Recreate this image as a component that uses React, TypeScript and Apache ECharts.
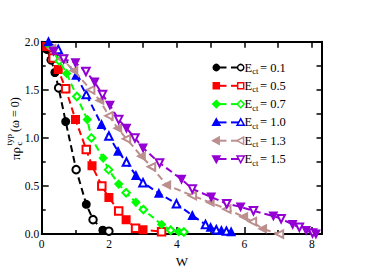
import React, { useEffect, useRef } from 'react';
import * as echarts from 'echarts';

// ---- data ----
const ectLabels = ['0.1', '0.5', '0.7', '1.0', '1.3', '1.5'];

const w01 = [0.15, 0.28, 0.39, 0.5, 0.71, 1.02, 1.32, 1.52, 1.81, 1.99];
const r01 = [1.92, 1.81, 1.68, 1.52, 1.17, 0.67, 0.31, 0.15, 0.04, 0.03];

const w05 = [0.15, 0.34, 0.49, 0.71, 1.0, 1.32, 1.49, 1.78, 1.99, 2.28, 2.5, 2.78, 3.0, 3.55];
const r05 = [1.95, 1.83, 1.71, 1.51, 1.19, 0.88, 0.71, 0.5, 0.38, 0.24, 0.15, 0.06, 0.045, 0.024];

const w07 = [0.22, 0.52, 0.74, 1.04, 1.35, 1.47, 1.82, 1.98, 2.28, 2.5, 2.79, 3.01, 3.55, 3.82, 4.06, 4.21];
const r07 = [1.96, 1.8, 1.67, 1.43, 1.19, 1.0, 0.79, 0.67, 0.52, 0.43, 0.33, 0.255, 0.1, 0.04, 0.025, 0.022];

const w10 = [0.2, 0.49, 1.02, 1.32, 1.77, 1.99, 2.26, 2.51, 2.79, 3.0, 3.47, 3.99, 4.46, 4.85, 5.0, 5.17, 5.32, 5.47, 5.61];
const r10 = [2.0, 1.92, 1.65, 1.45, 1.14, 1.02, 0.86, 0.75, 0.61, 0.535, 0.425, 0.316, 0.194, 0.1, 0.07, 0.045, 0.038, 0.031, 0.024];

const w13 = [0.3, 0.6, 0.95, 1.45, 1.72, 1.99, 2.25, 2.51, 2.95, 3.25, 3.7, 4.46, 4.99, 5.48, 5.98, 6.24, 6.54, 7.04];
const r13 = [1.93, 1.82, 1.7, 1.5, 1.39, 1.23, 1.1, 0.99, 0.81, 0.7, 0.51, 0.4, 0.33, 0.26, 0.18, 0.13, 0.055, 0.0];

const w15 = [0.35, 0.65, 1.0, 1.31, 1.57, 1.8, 2.02, 2.28, 2.51, 2.76, 3.0, 3.49, 4.14, 4.46, 5.02, 5.48, 5.89, 6.27, 6.86, 7.09, 7.43, 7.63, 7.83, 8.02, 8.12];
const r15 = [1.9, 1.82, 1.78, 1.69, 1.58, 1.45, 1.34, 1.19, 1.1, 1.0, 0.895, 0.74, 0.57, 0.47, 0.385, 0.316, 0.283, 0.242, 0.188, 0.16, 0.1, 0.071, 0.038, 0.012, 0.0];

const xTicks = [0, 2, 4, 6, 8];
const yTicks = [0, 0.5, 1.0, 1.5, 2.0];

const allW = [w01, w05, w07, w10, w13, w15];
const allR = [r01, r05, r07, r10, r13, r15];

// ---- styles ----
const colors = ['#000000', '#ff0000', '#00ff00', '#0000ff', '#bc8f8f', '#9400d3'];
const shapes = ['circle', 'rect', 'diamond', 'triangle', 'triangleLeft', 'triangleDown'];
const SERIF = '"Liberation Serif", "Times New Roman", serif';

function symbolFor(shape: string, filled: boolean) {
  const base =
    shape === 'circle' ? 'Circle' : shape === 'rect' ? 'Rect' : shape === 'diamond' ? 'Diamond' : 'Triangle';
  return filled ? base.toLowerCase() : 'empty' + base;
}
function rotFor(shape: string) {
  return shape === 'triangleLeft' ? 90 : shape === 'triangleDown' ? 180 : 0;
}

function marker(shape: string, cx: number, cy: number, color: string, filled: boolean): any {
  const s = 3.6;
  const style = { fill: filled ? color : '#ffffff', stroke: color, lineWidth: 1.5 };
  let pts: number[][] = [];
  switch (shape) {
    case 'circle':
      return { type: 'circle', shape: { cx, cy, r: 3.1 }, style };
    case 'rect':
      return { type: 'rect', shape: { x: cx - 3, y: cy - 3, width: 6, height: 6 }, style };
    case 'diamond':
      pts = [[cx, cy - s], [cx + s, cy], [cx, cy + s], [cx - s, cy]];
      break;
    case 'triangle':
      pts = [[cx, cy - s], [cx + s, cy + s * 0.8], [cx - s, cy + s * 0.8]];
      break;
    case 'triangleLeft':
      pts = [[cx - s, cy], [cx + s * 0.8, cy - s], [cx + s * 0.8, cy + s]];
      break;
    default:
      pts = [[cx, cy + s], [cx + s, cy - s * 0.8], [cx - s, cy - s * 0.8]];
  }
  return { type: 'polygon', shape: { points: pts }, style };
}

const mkLine = () => ({ show: true, onZero: false, lineStyle: { color: '#000', width: 2 } });
const tickStyle = () => ({ color: '#000', width: 1.5 });

export default function App() {
  const ref = useRef<HTMLDivElement>(null);

  useEffect(() => {
    if (!ref.current) return;
    const chart = echarts.init(ref.current, undefined, { renderer: 'svg' });

    const series: any[] = allW.map((w, i) => ({
      type: 'line',
      name: 'E_ct = ' + ectLabels[i],
      xAxisIndex: 0,
      yAxisIndex: 0,
      data: w.map((x, j) => ({
        value: [x, allR[i][j]],
        symbol: symbolFor(shapes[i], j % 2 === 0),
        symbolRotate: rotFor(shapes[i]),
      })),
      symbolSize: 7.5,
      showAllSymbol: true,
      lineStyle: { color: colors[i], width: 2, type: [7, 4] },
      itemStyle: { color: colors[i], borderColor: colors[i], borderWidth: 1.5 },
      z: 2 + i,
      silent: true,
    }));

    // legend (drawn as graphic)
    const legendEls: any[] = [];
    ectLabels.forEach((lab, i) => {
      const y = 67.5 + 18.3 * i;
      const c = colors[i];
      legendEls.push({ type: 'line', shape: { x1: 216.3, y1: y, x2: 226.5, y2: y }, style: { stroke: c, lineWidth: 2 } });
      legendEls.push({ type: 'line', shape: { x1: 231, y1: y, x2: 240.7, y2: y }, style: { stroke: c, lineWidth: 2 } });
      legendEls.push(marker(shapes[i], 216.3, y, c, true));
      legendEls.push(marker(shapes[i], 240.7, y, c, false));
      legendEls.push({ type: 'text', style: { text: 'E', x: 244.5, y: y, font: '12.5px ' + SERIF, fill: '#000', verticalAlign: 'middle' } });
      legendEls.push({ type: 'text', style: { text: 'ct', x: 252.3, y: y + 3.5, font: '8.5px ' + SERIF, fill: '#000', verticalAlign: 'middle' } });
      legendEls.push({ type: 'text', style: { text: '= ' + lab, x: 260, y: y, font: '12.5px ' + SERIF, fill: '#000', verticalAlign: 'middle' } });
    });

    const yLabel = {
      type: 'group',
      x: 15,
      y: 160,
      rotation: Math.PI / 2,
      children: [
        { type: 'text', style: { text: 'πρ', x: 0, y: 0, font: '13px ' + SERIF, fill: '#000', verticalAlign: 'middle' } },
        { type: 'text', style: { text: 'c', x: 14.5, y: 4, font: '9px ' + SERIF, fill: '#000', verticalAlign: 'middle' } },
        { type: 'text', style: { text: 'typ', x: 14.5, y: -6.5, font: '9px ' + SERIF, fill: '#000', verticalAlign: 'middle' } },
        { type: 'text', style: { text: '(ω = 0)', x: 28, y: 0, font: '12px ' + SERIF, fill: '#000', verticalAlign: 'middle' } },
      ],
    };

    chart.setOption({
      animation: false,
      backgroundColor: '#ffffff',
      grid: { left: 41.7, top: 41.7, right: 64, bottom: 35.3, containLabel: false },
      xAxis: [
        {
          type: 'value',
          position: 'bottom',
          min: 0,
          max: 8.3,
          interval: 2,
          axisLine: mkLine(),
          axisTick: { show: true, inside: true, length: 7, lineStyle: tickStyle() },
          minorTick: { show: true, splitNumber: 2, length: 4, lineStyle: tickStyle() },
          splitLine: { show: false },
          axisLabel: {
            margin: 4,
            color: '#000',
            fontFamily: SERIF,
            fontSize: 11.5,
            formatter: (v: number) => (xTicks.indexOf(v) >= 0 ? String(v) : ''),
          },
          name: 'W',
          nameLocation: 'middle',
          nameGap: 13,
          nameTextStyle: { fontFamily: SERIF, fontSize: 13, color: '#000' },
        },
        {
          type: 'value',
          position: 'top',
          min: 0,
          max: 8.3,
          interval: 1,
          axisLine: mkLine(),
          axisTick: { show: true, inside: true, length: 6, lineStyle: tickStyle() },
          axisLabel: { show: false },
          splitLine: { show: false },
        },
      ],
      yAxis: [
        {
          type: 'value',
          position: 'left',
          min: 0,
          max: 2,
          interval: 0.5,
          axisLine: mkLine(),
          axisTick: { show: true, inside: true, length: 7, lineStyle: tickStyle() },
          minorTick: { show: true, splitNumber: 2, length: 4, lineStyle: tickStyle() },
          splitLine: { show: false },
          axisLabel: {
            margin: 2.5,
            color: '#000',
            fontFamily: SERIF,
            fontSize: 11.5,
            formatter: (v: number) => (yTicks.indexOf(v) >= 0 ? v.toFixed(1) : ''),
          },
        },
        {
          type: 'value',
          position: 'right',
          min: 0,
          max: 2,
          interval: 0.25,
          axisLine: mkLine(),
          axisTick: { show: true, inside: true, length: 5.5, lineStyle: tickStyle() },
          axisLabel: { show: false },
          splitLine: { show: false },
        },
      ],
      series,
      graphic: [...legendEls, yLabel],
    });

    return () => chart.dispose();
  }, []);

  return (
    <div
      ref={ref}
      style={{ position: 'fixed', left: 0, top: 0, width: 386, height: 273, background: '#fff' }}
    />
  );
}
